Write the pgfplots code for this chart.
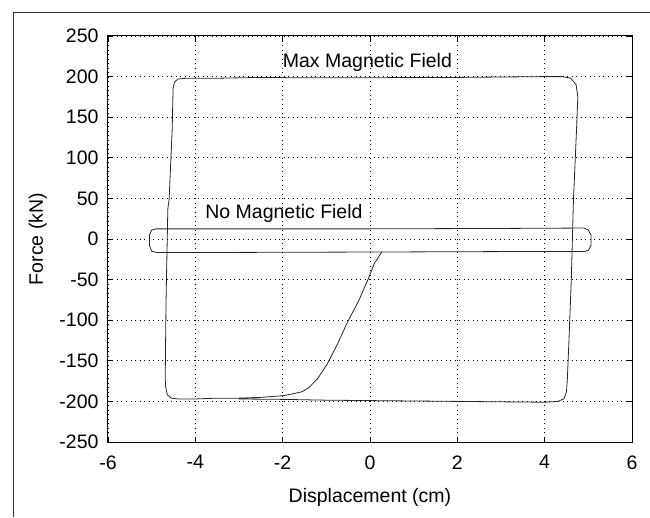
\documentclass[border=0pt]{standalone}
\usepackage{fontspec}
\setmainfont{Liberation Sans}
\usepackage{pgfplots}
\pgfplotsset{compat=1.18}

\pgfplotstableread{
x F
0.27 -16
0.10 -30
-0.04 -49
-0.25 -75
-0.53 -104
-0.75 -130
-0.98 -154
-1.20 -172
-1.40 -183
-1.55 -188
-1.80 -191
-2.00 -193
-2.50 -195
-3.00 -196
-3.50 -196
-4.00 -197
-4.40 -197
-4.55 -196
-4.64 -192
-4.68 -182
-4.69 -172
-4.67 -74
-4.63 37
-4.60 49
-4.53 135
-4.51 185
-4.48 193
-4.40 197
-4.20 198
-3.50 198
-2.50 199
-1.50 198.5
0.00 198.5
1.00 199
2.00 199
3.00 199.5
4.00 200
4.40 200
4.60 198
4.72 190
4.76 175
4.73 135
4.70 98
4.66 49
4.63 -10
4.61 -50
4.56 -120
4.52 -172
4.50 -188
4.44 -197
4.30 -200
4.00 -201
3.00 -200.5
2.00 -200
1.00 -199.5
0.00 -199
-1.00 -198.5
-2.00 -197.5
-3.00 -197
}\maxfield

\pgfplotstableread{
x F
-4.90 12.5
-3.00 12.5
0.00 12.5
3.00 13
4.90 13.5
5.00 11
5.06 5
5.06 -8
5.00 -14
4.90 -15.5
3.00 -15.5
0.30 -16
-3.00 -16.5
-4.90 -16.5
-5.00 -15
-5.05 -8
-5.05 5
-5.00 11
-4.90 12.5
}\nofield

\begin{document}
\begin{tikzpicture}
\path[use as bounding box] (-108pt,-75pt) rectangle (542pt,442pt);
\draw[line width=1pt, black!80] (-94pt,-75pt) -- (-94pt,429pt) -- (542pt,429pt);
\begin{axis}[
  scale only axis, width=524pt, height=406pt,
  xmin=-6, xmax=6, ymin=-250, ymax=250,
  xtick={-6,-4,...,6}, ytick={-250,-200,...,250},
  tick align=inside, tick pos=both,
  major tick length=5pt,
  every tick/.style={black, line width=0.8pt},
  axis line style={black, line width=1pt},
  grid=major,
  major grid style={black, line width=0.9pt, dash pattern=on 0.9pt off 3.6pt},
  font=\fontsize{19.5}{23}\selectfont,
  tick label style={font=\fontsize{19.5}{23}\selectfont},
  xticklabel style={yshift=-10pt},
  yticklabel style={xshift=-6pt},
  /pgf/number format/assume math mode=true,
  xlabel={Displacement (cm)}, ylabel={Force (kN)},
  x label style={at={(axis description cs:0.5,-0.137)}, anchor=center},
  y label style={at={(axis description cs:-0.134,0.5)}, anchor=center, rotate=0},
  clip=false,
]
\addplot[black!85, line width=0.8pt] table[x=x, y=F] {\maxfield};
\addplot[black!85, line width=0.8pt] table[x=x, y=F] {\nofield};
\node[font=\fontsize{19.5}{23}\selectfont] at (axis cs:-0.06,217) {Max Magnetic Field};
\node[font=\fontsize{19.5}{23}\selectfont] at (axis cs:-1.97,31) {No Magnetic Field};
\end{axis}
\end{tikzpicture}
\end{document}
